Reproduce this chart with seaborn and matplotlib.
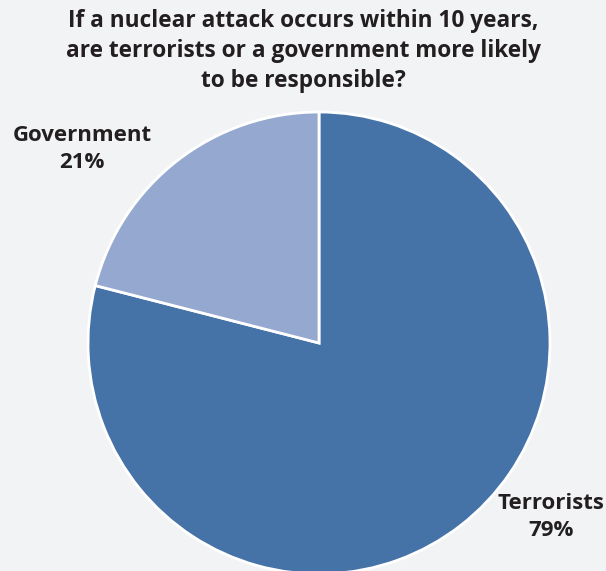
import matplotlib.pyplot as plt
import seaborn as sns

sns.set_theme(style="white")
plt.rcParams["font.family"] = ["Open Sans", "DejaVu Sans"]

# data
categories = ["Terrorists", "Government"]
shares = [79, 21]
colors = ["#4572a7", "#95a9d0"]
title = ("If a nuclear attack occurs within 10 years,\n"
         "are terrorists or a government more likely\n"
         "to be responsible?")

bg = "#f2f3f5"
fig = plt.figure(figsize=(6.06, 5.71), dpi=100, facecolor=bg)
ax = fig.add_axes([0, 0, 1, 1])
ax.set_facecolor(bg)

ax.pie(shares, colors=colors, startangle=90, counterclock=False,
       radius=1, center=(0, 0),
       wedgeprops=dict(edgecolor="white", linewidth=2))

# map pixel layout: center at (319, 343), radius 231 px
r = 231
ax.set_xlim(-319 / r, (606 - 319) / r)
ax.set_ylim(-(571 - 343) / r, 343 / r)
ax.set_aspect("auto")
ax.axis("off")

def px(x, y):
    return (x - 319) / r, (343 - y) / r

fig.text(0.5, 1 - 51 / 571, title, ha="center", va="center",
         fontsize=16.3, fontweight="bold", color="#231f20", linespacing=1.32)

for name, val, (x, y) in zip(categories, shares, [(551, 517), (82, 149)]):
    ax.text(*px(x, y), f"{name}\n{val}%", ha="center", va="center",
            fontsize=16, fontweight="bold", color="#231f20", linespacing=1.32)

fig.savefig("out.png", dpi=100, facecolor=bg)
